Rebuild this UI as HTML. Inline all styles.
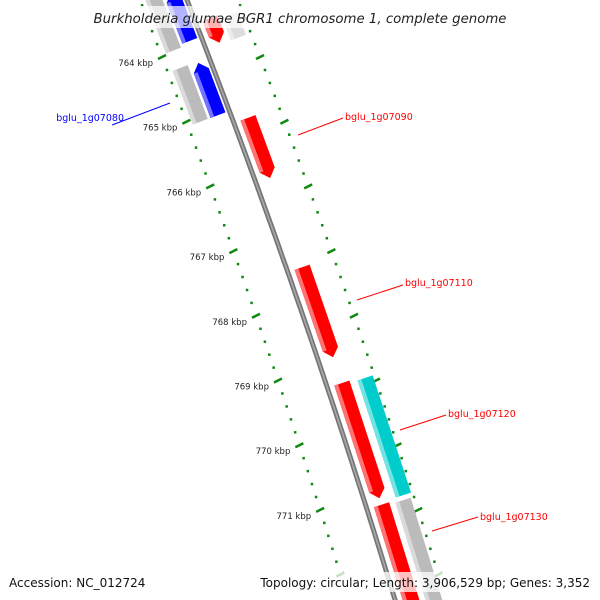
<!DOCTYPE html>
<html><head><meta charset="utf-8"><style>
html,body{margin:0;padding:0;background:#fff}
svg{display:block;font-family:"DejaVu Sans","Liberation Sans",sans-serif}
</style></head><body>
<svg id="c" width="600" height="600" viewBox="0 0 600 600"></svg>
<script>
const kbpTicks=[764,765,766,767,768,769,770,771];
const geneNames=["top-gray-left","top-blue","top-red","top-gray-right","bglu_1g07080-gray","bglu_1g07080","bglu_1g07090","bglu_1g07110","bglu_1g07120","cyan-gene","bglu_1g07130","gray-gene-right"];
const geneStart=[763.0,763.0,763.4,763.35,764.17,764.09,764.94,767.25,769.04,768.96,770.92,770.85];
const geneEnd=[763.9,763.75,763.78,763.7,765.0,764.9,765.87,768.64,770.82,770.77,772.6,772.6];
const geneTrack=[-33,-13,16,37,-33,-13,16,16,16,41,16,39];
const geneColor=["#bbbbbb","#0000ff","#ff0000","#dddddd","#bbbbbb","#0000ff","#ff0000","#ff0000","#ff0000","#00cccc","#ff0000","#bbbbbb"];
const geneStrand=[0,-1,1,0,0,-1,1,1,1,0,1,0];
const labelNames=["bglu_1g07080","bglu_1g07090","bglu_1g07110","bglu_1g07120","bglu_1g07130"];
const labelColor=["#0000ff","#ff0000","#ff0000","#ff0000","#ff0000"];

const NS="http://www.w3.org/2000/svg",svg=document.getElementById('c');
function mk(t,a,p){const e=document.createElementNS(NS,t);for(const k in a)e.setAttribute(k,a[k]);(p||svg).appendChild(e);return e;}
function yK(k){return 57+(k-764)*64.7;}
function bb(y){return 187+0.39*y-7.2e-5*y*y;}
function sl(y){return 0.39-1.44e-4*y;}
function pt(y,h,d){const s=sl(y),n=Math.sqrt(1+s*s);return [bb(y)+h+d/n,y-d*s/n];}

let pts=[];for(let y=-10;y<=610;y+=10)pts.push(bb(y).toFixed(1)+","+y);
let g=mk('g',{});
mk('polyline',{points:pts.join(" "),fill:"none",stroke:"#777",'stroke-width':5},g);
mk('polyline',{points:pts.join(" "),fill:"none",stroke:"#aaa",'stroke-width':1.5},g);

function scale2(h,name){const gg=mk('g',{});
 for(let i=-10;i<=45;i++){const k=763+i*0.2,y=yK(k);if(y<-5||y>605)continue;
  const major=Math.abs(k-Math.round(k))<1e-6;const x=bb(y)+h;
  if(major)mk('line',{x1:x-4,y1:y+2,x2:x+4,y2:y-2,stroke:"#118811",'stroke-width':2.5},gg);
  else mk('rect',{x:x-1.2,y:y-1.2,width:2.5,height:2.5,fill:"#118811"},gg);
 }}
scale2(-47,'inner-scale');scale2(51,'outer-scale');

kbpTicks.forEach(k=>{const y=yK(k);const t=mk('text',{x:bb(y)-47-9,y:y+9,'text-anchor':'end','font-size':8.5,fill:'#222'});
 t.textContent=k+" kbp";});

function lighten(c,f){const n=parseInt(c.slice(1),16);let r=n>>16,gg=(n>>8)&255,b=n&255;
 r=Math.round(r+(255-r)*f);gg=Math.round(gg+(255-gg)*f);b=Math.round(b+(255-b)*f);return `rgb(${r},${gg},${b})`;}
geneNames.forEach((nm,i)=>{const y1=yK(geneStart[i]),y2=yK(geneEnd[i]),h=geneTrack[i],w=8;
 const gg=mk('g',{});
 let poly;
 if(geneStrand[i]===1){const ya=y2-8;poly=[pt(y1,h,-w),pt(y1,h,w),pt(ya,h,w),pt(y2,h,0),pt(ya,h,-w)];}
 else if(geneStrand[i]===-1){const ya=y1+8;poly=[pt(ya,h,-w),pt(y1,h,0),pt(ya,h,w),pt(y2,h,w),pt(y2,h,-w)];}
 else poly=[pt(y1,h,-w),pt(y1,h,w),pt(y2,h,w),pt(y2,h,-w)];
 mk('polygon',{points:poly.map(p=>p.join(",")).join(" "),fill:geneColor[i]},gg);
 const off=geneStrand[i]===-1?8:0,off2=geneStrand[i]===1?8:0;
 const st=[pt(y1+off,h,-w),pt(y1+off,h,-w+4),pt(y2-off2,h,-w+4),pt(y2-off2,h,-w)];
 mk('polygon',{points:st.map(p=>p.join(",")).join(" "),fill:lighten(geneColor[i],0.45)},gg);
});

const lblPos=[[124,121,112,125,170,103,'end'],[345,120,298,135,343,118,'start'],[405,286,357,300,403,285,'start'],[448,417,400,430,446,415,'start'],[480,520,432,531,478,517,'start']];
labelNames.forEach((nm,i)=>{const p=lblPos[i];const gg=mk('g',{});
 mk('line',{x1:p[2],y1:p[3],x2:p[4],y2:p[5],stroke:labelColor[i],'stroke-width':1},gg);
 const t=mk('text',{x:p[0],y:p[1],'font-size':9.5,fill:labelColor[i],'text-anchor':p[6]},gg);t.textContent=nm;});

mk('rect',{x:85,y:6,width:430,height:22,fill:'rgba(255,255,255,0.7)'});
let t=mk('text',{x:300,y:23,'text-anchor':'middle','font-size':13.3,'font-style':'italic',fill:'#222'});
t.textContent="Burkholderia glumae BGR1 chromosome 1, complete genome";
mk('rect',{x:0,y:572,width:600,height:20,fill:'rgba(255,255,255,0.75)'});
t=mk('text',{x:9,y:587,'font-size':12,fill:'#111'});t.textContent="Accession: NC_012724";

t=mk('text',{x:590,y:587,'text-anchor':'end','font-size':12,fill:'#111'});t.textContent="Topology: circular; Length: 3,906,529 bp; Genes: 3,352";

</script>
</body></html>
